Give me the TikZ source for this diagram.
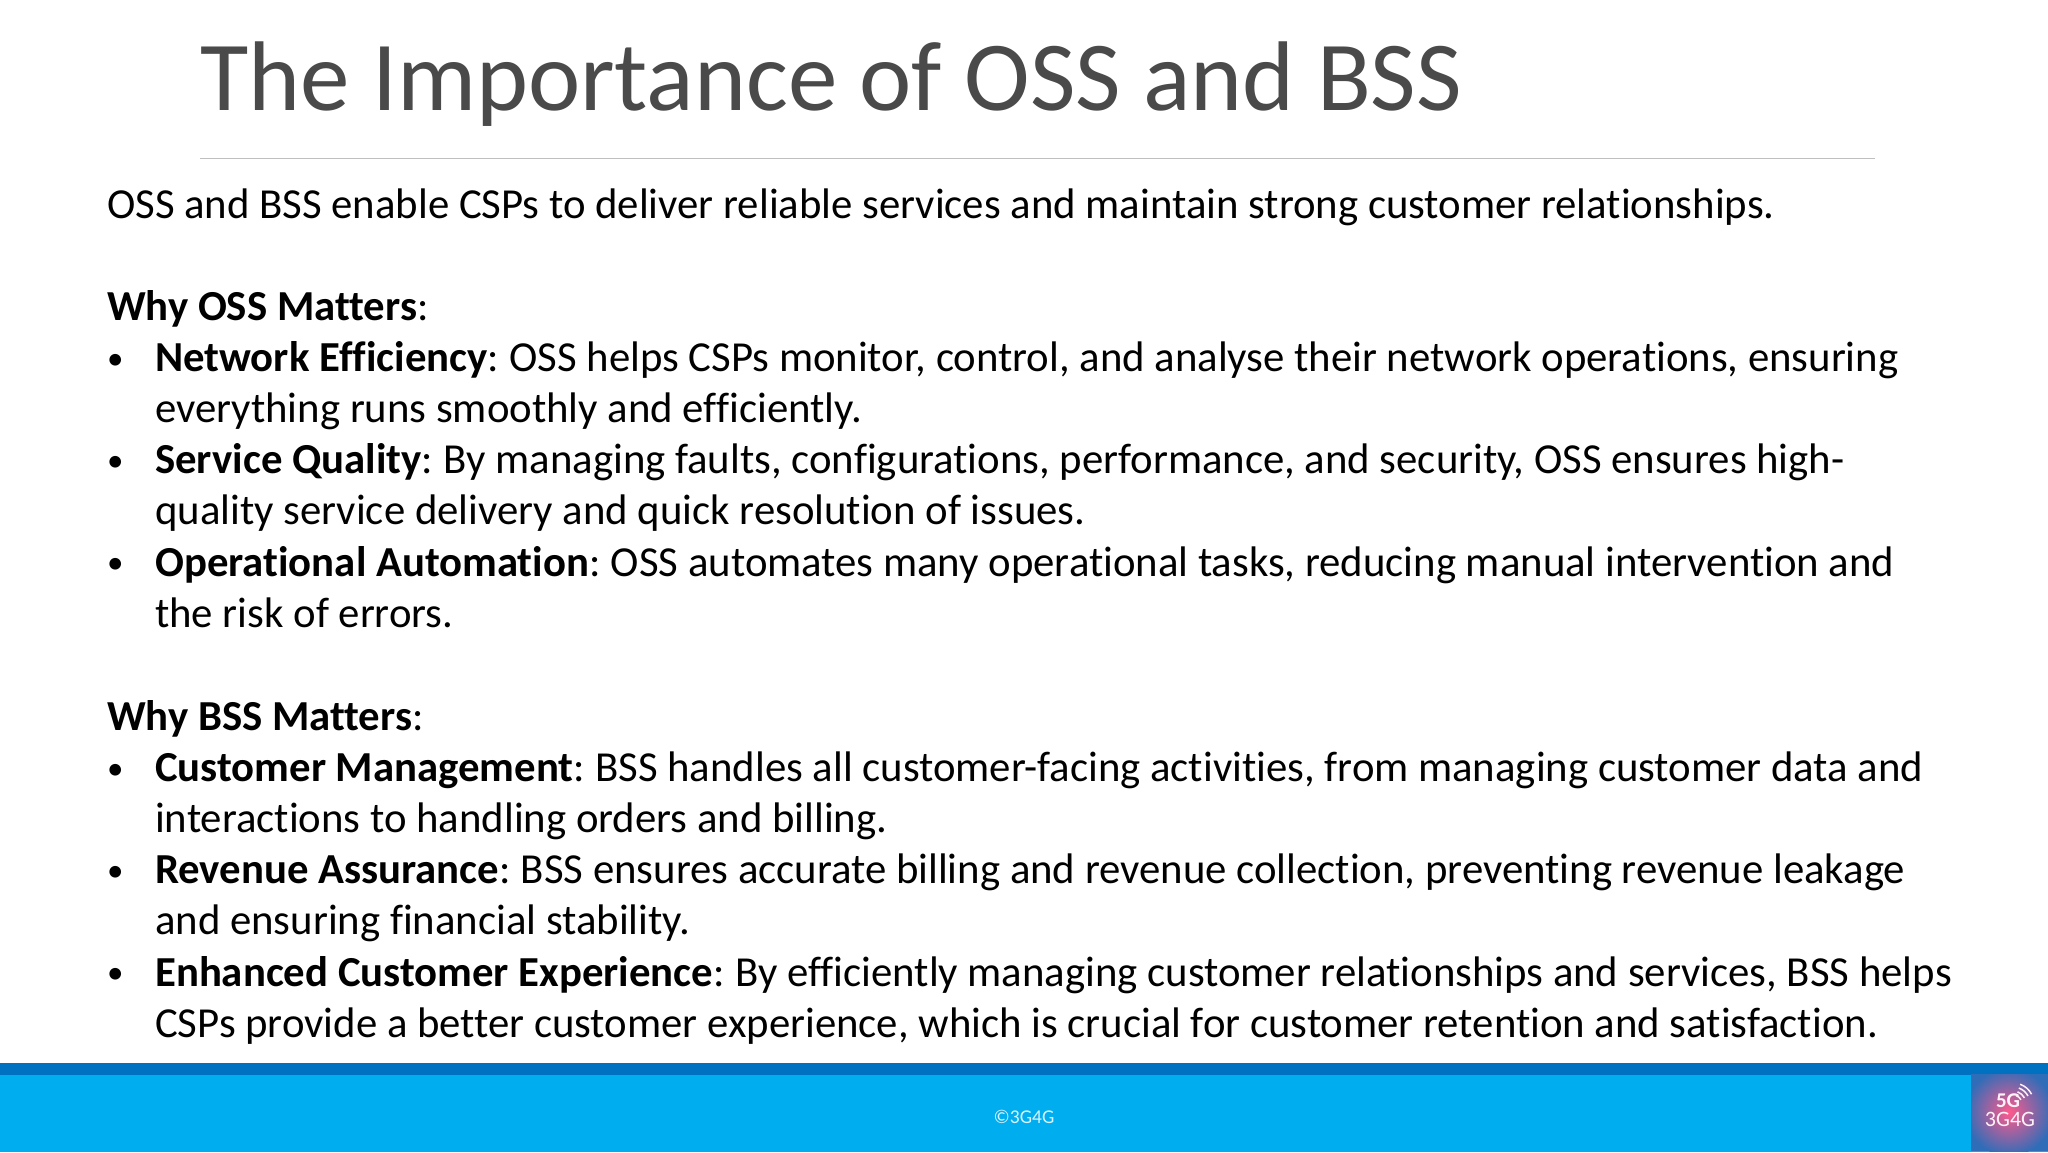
\documentclass[tikz,border=0pt]{standalone}
\usepackage{fontspec}
\setmainfont[Ligatures=NoCommon]{Carlito}
\definecolor{titlec}{HTML}{4A4A4A}
\definecolor{barlight}{HTML}{00ADEF}
\definecolor{bardark}{HTML}{0070C0}
\definecolor{rulec}{HTML}{BFBFBF}
\definecolor{logoin}{HTML}{FF5A8C}
\definecolor{logoout}{HTML}{2F6DB8}
\newcommand{\lead}[1]{\textbf{#1}:\hspace{-2.5pt} }
\begin{document}
\begin{tikzpicture}[x=1pt,y=-1pt,
  body/.style={anchor=base west,inner sep=0pt,font=\fontsize{42.76}{50}\selectfont,text=black},
  bul/.style={anchor=base west,inner sep=0pt,font=\fontsize{33}{40}\selectfont,text=black}]
\useasboundingbox (0,0) rectangle (2048,1152);
\fill[white] (0,0) rectangle (2048,1152);
\node[anchor=base west,inner sep=0pt,font=\fontsize{99}{105}\selectfont,text=titlec] (title) at (200,110) {The Importance of OSS and BSS};
\coordinate (ra) at (200,158.5); \coordinate (rb) at (1875,158.5);
\draw[rulec,line width=1pt] (ra) -- (rb);
\node[body] (l0) at (107,218) {OSS and BSS enable CSPs to deliver reliable services and maintain strong customer relationships.};
\node[body] (h1) at (107,320) {\textbf{Why OSS Matters}:};
\node[bul] (b1) at (107,369) {•};
\node[body] (l1) at (155,371.5) {\lead{Network Efficiency}OSS helps CSPs monitor, control, and analyse their network operations, ensuring};
\node[body] (l2) at (155,422.5) {everything runs smoothly and efficiently.};
\node[bul] (b2) at (107,471) {•};
\node[body] (l3) at (155,473.5) {\lead{Service Quality}By managing faults, configurations, performance, and security, OSS ensures high-};
\node[body] (l4) at (155,524.5) {quality service delivery and quick resolution of issues.};
\node[bul] (b3) at (107,573) {•};
\node[body] (l5) at (155,576) {\lead{Operational Automation}OSS automates many operational tasks, reducing manual intervention and};
\node[body] (l6) at (155,627) {the risk of errors.};
\node[body] (h2) at (107,730) {\textbf{Why BSS Matters}:};
\node[bul] (b4) at (107,779) {•};
\node[body] (l7) at (155,781) {\lead{Customer Management}BSS handles all customer-facing activities, from managing customer data and};
\node[body] (l8) at (155,832) {interactions to handling orders and billing.};
\node[bul] (b5) at (107,881) {•};
\node[body] (l9) at (155,883.5) {\lead{Revenue Assurance}BSS ensures accurate billing and revenue collection, preventing revenue leakage};
\node[body] (l10) at (155,934.5) {and ensuring financial stability.};
\node[bul] (b6) at (107,983) {•};
\node[body] (l11) at (155,986) {\lead{Enhanced Customer Experience}By efficiently managing customer relationships and services, BSS helps};
\node[body] (l12) at (155,1037) {CSPs provide a better customer experience, which is crucial for customer retention and satisfaction.};
\fill[bardark] (0,1063) rectangle (2048,1075);
\fill[barlight] (0,1075) rectangle (2048,1152);
\node[font=\fontsize{19.5}{22}\selectfont,text=white!85!barlight] (foot) at (1024,1116.5) {©3G4G};
\fill[logoout] (1971,1074) rectangle (2048,1151);
\begin{scope}
\clip (1971,1074) rectangle (2048,1151);
\shade[inner color=logoin,outer color=logoout] (2009,1112) circle (44);
\end{scope}
\node[font=\bfseries\fontsize{21}{21}\selectfont,text=white!92!logoin,inner sep=0pt] (five) at (2008,1101) {5G};
\node[font=\fontsize{22}{22}\selectfont,text=white!92!logoin,inner sep=0pt] (logo) at (2010,1119) {3G4G};
\foreach \r in {9,13,17,21}
  \draw[white!90!logoin,line width=1.5pt] (2013,1104) ++(-70:\r) arc[start angle=-70,end angle=-28,radius=\r];
\end{tikzpicture}
\end{document}
